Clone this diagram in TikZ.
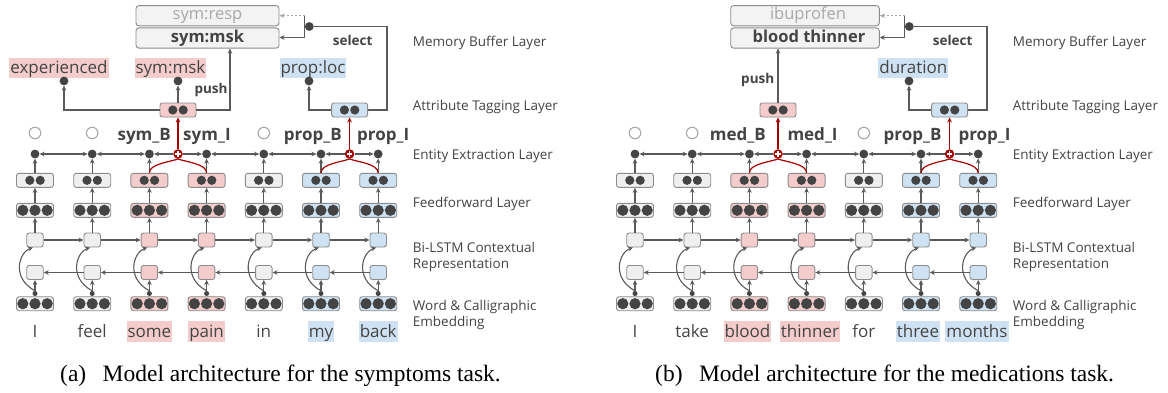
\documentclass[tikz,border=0pt]{standalone}
\usepackage{fontspec}
\setmainfont{Liberation Serif}
\newfontfamily\gsans{Open Sans}
\usetikzlibrary{arrows.meta}
\definecolor{ink}{HTML}{444444}
\definecolor{ln}{HTML}{5A5A5A}
\definecolor{bd}{HTML}{8C8C8C}
\definecolor{gy}{HTML}{EFEFEF}
\definecolor{pk}{HTML}{F4CCCC}
\definecolor{bl}{HTML}{CFE2F3}
\definecolor{rd}{HTML}{A50000}
\definecolor{lg}{HTML}{A8A8A8}
\definecolor{mf}{HTML}{F3F3F3}
\newcommand{\fsz}[1]{\fontsize{#1}{#1}\selectfont}
\newcommand{\twod}[1]{\fill[ink] ([xshift=-5.2pt]#1.center) circle (4.6pt) ([xshift=5.2pt]#1.center) circle (4.6pt);}
\newcommand{\threed}[1]{\fill[ink] ([xshift=-12.2pt]#1.center) circle (5.6pt) (#1.center) circle (5.6pt) ([xshift=12.2pt]#1.center) circle (5.6pt);}
\tikzset{
  myarr/.tip={Stealth[length=5pt,width=4.6pt]},
  lnz/.style={draw=ln, line width=1.1pt},
  ar/.style={draw=ln, line width=1.1pt, -myarr},
  dar/.style={draw=ln, line width=1.1pt, myarr-myarr},
  redln/.style={draw=rd, line width=1.2pt},
  vb/.style={draw=bd, line width=0.9pt, rounded corners=2.5pt, minimum width=37pt, minimum height=14pt, inner sep=0pt},
  sq/.style={draw=bd, line width=0.9pt, rounded corners=2.5pt, minimum width=16.5pt, minimum height=14pt, inner sep=0pt},
  edot/.style={circle, fill=ink, minimum size=8.8pt, inner sep=0pt},
  jdot/.style={circle, fill=ink, minimum size=5pt, inner sep=0pt},
  odot/.style={circle, draw=lg, line width=1.1pt, minimum size=11.5pt, inner sep=0pt},
  plus/.style={circle, fill=rd, minimum size=9.5pt, inner sep=0pt},
  word/.style={font=\gsans\fsz{17}, text=ink, anchor=base, inner xsep=1pt, inner ysep=1.7pt, text height=14.5pt, text depth=2.5pt},
  tag/.style={font=\gsans\bfseries\fsz{17}, text=ink, inner sep=0pt},
  layer/.style={font=\gsans\fsz{13.5}, text=ink, anchor=base west, inner sep=0pt},
  act/.style={font=\gsans\bfseries\fsz{13.5}, text=ink, inner sep=0pt},
  mem/.style={draw=bd, line width=0.9pt, rounded corners=3pt, fill=mf, inner sep=0pt, minimum height=20.3pt, text height=11.5pt, text depth=3.5pt},
  capt/.style={font=\fsz{23.5}, text=black, anchor=base west, inner sep=0pt}
}
\newcommand{\panelbody}[1]{%
  \foreach \i/\c in {1/gy,2/gy,3/pk,4/pk,5/gy,6/bl,7/bl}{%
    \pgfmathsetmacro{\x}{35+57.2*(\i-1)}
    \node[vb,fill=\c] (#1e\i) at (\x,303.7) {};
    \threed{#1e\i}
    \node[jdot] (#1j\i) at (\x,293.5) {};
    \node[sq,fill=\c] (#1b\i) at (\x,272.5) {};
    \node[sq,fill=\c] (#1f\i) at (\x,240) {};
    \node[vb,fill=\c] (#1g\i) at (\x,210.3) {};
    \threed{#1g\i}
    \node[vb,fill=\c] (#1h\i) at (\x,180.3) {};
    \twod{#1h\i}
    \node[edot] (#1d\i) at (\x,154) {};
    \draw[ar] (#1j\i) -- (#1b\i);
    \draw[ar] (#1j\i.north) .. controls +(-24,-13) and +(-14,5) .. ([xshift=-2pt]#1f\i.south);
    \draw[ar] (#1f\i) -- (#1g\i);
    \draw[ar] (#1g\i) -- (#1h\i);
    \draw[ar] (#1h\i) -- (#1d\i);
  }
  \foreach \i in {1,...,6}{%
    \pgfmathtruncatemacro{\nn}{\i+1}
    \draw[ar] (#1f\i) -- (#1f\nn);
    \draw[ar] (#1b\nn) -- (#1b\i);
  }
  \foreach \i/\nn in {1/2,2/3,4/5,5/6}{\draw[dar] (#1d\i) -- (#1d\nn);}
  \foreach \i in {1,2,5}{%
    \pgfmathsetmacro{\x}{35+57.2*(\i-1)}
    \node[odot] (#1o\i) at (\x,133) {};
  }
  \node[vb,fill=pk,minimum width=36pt] (#1a1) at (178,110) {}; \twod{#1a1}
  \node[vb,fill=bl,minimum width=36pt] (#1a2) at (349.6,110) {}; \twod{#1a2}
  \node[plus] (#1p1) at (178,154) {};
  \node[plus] (#1p2) at (349.6,154) {};
  \draw[redln] (#1h3.north) .. controls +(0,-9) and +(-8,3) .. (#1p1.south);
  \draw[redln] (#1h4.north) .. controls +(0,-9) and +(8,3) .. (#1p1.south);
  \draw[redln] (#1h6.north) .. controls +(0,-9) and +(-8,3) .. (#1p2.south);
  \draw[redln] (#1h7.north) .. controls +(0,-9) and +(8,3) .. (#1p2.south);
  \draw[redln,-myarr] (#1p1) -- (#1a1);
  \draw[redln,-myarr] (#1p2) -- (#1a2);
  \draw[ar] (#1p1) -- (#1d3);
  \draw[ar] (#1p1) -- (#1d4);
  \draw[ar] (#1p2) -- (#1d6);
  \draw[ar] (#1p2) -- (#1d7);
  \foreach \q in {1,2}{%
    \draw[white,line width=1.3pt] ([xshift=-2.7pt]#1p\q.center) -- ([xshift=2.7pt]#1p\q.center)
      ([yshift=-2.7pt]#1p\q.center) -- ([yshift=2.7pt]#1p\q.center);
  }
  \node[edot] (#1sd) at (309.3,26.5) {};
  \coordinate (#1st) at (304.5,15.7);
  \coordinate (#1sb) at (304.5,37.5);
  \coordinate (#1sc) at (387,26.5);
  \draw[lnz] (#1a2.east) -| (#1sc) -- (#1sd);
  \draw[lnz] (#1st) -- (#1sb);
  \draw[ar] (#1sb) -- (#1mm.east |- #1sb);
  \draw[draw=lg,line width=1.1pt,dash pattern=on 1.2pt off 2.8pt,-myarr] (#1st) -- (#1mr.east |- #1st);
  \node[act] (#1sel) at (352.7,40) {select};
  \node[edot] (#1D3) at (309,81) {};
  \draw[ar] (#1a2.west) -| (#1D3);
  \node[layer] (#1l1) at (412.7,46.5) {Memory Buffer Layer};
  \node[layer] (#1l2) at (412.7,110) {Attribute Tagging Layer};
  \node[layer] (#1l3) at (412.7,159) {Entity Extraction Layer};
  \node[layer] (#1l4) at (412.7,207.5) {Feedforward Layer};
  \node[layer] (#1l5) at (412.7,252) {Bi-LSTM Contextual};
  \node[layer] (#1l6) at (412.7,268) {Representation};
  \node[layer] (#1l7) at (412.7,310.5) {Word \& Calligraphic};
  \node[layer] (#1l8) at (412.7,326.5) {Embedding};
}
\begin{document}
\begin{tikzpicture}[x=1pt,y=-1pt]
\useasboundingbox (0,0) rectangle (1168,392);
\fill[white] (0,0) rectangle (1168,392);
% ---------------- panel (a)
\begin{scope}
  \node[mem,minimum width=143pt,font=\gsans\fsz{16.5},text=lg] (amr) at (207.5,15.7) {sym:resp};
  \node[mem,minimum width=143pt,font=\gsans\bfseries\fsz{16.5},text=ink] (amm) at (207.5,38) {sym:msk};
  \node[word,fill=pk] (al1) at (59,73.8) {experienced};
  \node[word,fill=pk] (al2) at (170.5,73.8) {sym:msk};
  \node[word,fill=bl] (al3) at (313,73.8) {prop:loc};
  \panelbody{a}
  \node[edot] (aD1) at (64,81) {};
  \node[edot] (aD2) at (178,81) {};
  \draw[ar] (aa1.west) -| (aD1);
  \draw[ar] (aa1) -- (aD2);
  \draw[ar] (aa1.east) -| ([xshift=22.5pt]amm.south);
  \node[act] (apush) at (211,90) {push};
  \node[tag,anchor=base east] (at3) at (171,140) {sym\_B};
  \node[tag,anchor=base west] (at4) at (183,140) {sym\_I};
  \node[tag,anchor=base east] (at6) at (342,140) {prop\_B};
  \node[tag,anchor=base west] (at7) at (357,140) {prop\_I};
  \node[word] (aw1) at (35,337.5) {I};
  \node[word] (aw2) at (92.2,337.5) {feel};
  \node[word,fill=pk] (aw3) at (149.4,337.5) {some};
  \node[word,fill=pk] (aw4) at (206.6,337.5) {pain};
  \node[word] (aw5) at (263.8,337.5) {in};
  \node[word,fill=bl] (aw6) at (321,337.5) {my};
  \node[word,fill=bl] (aw7) at (378.2,337.5) {back};
  \node[capt] (acap) at (60,381.5) {(a)\hspace{0.45em} Model architecture for the symptoms task.};
\end{scope}
% ---------------- panel (b)
\begin{scope}[xshift=600pt]
  \node[mem,minimum width=148.6pt,font=\gsans\fsz{16.5},text=lg] (bmr) at (205,15.7) {\hspace{6pt}ibuprofen};
  \node[mem,minimum width=148.6pt,font=\gsans\bfseries\fsz{16.5},text=ink] (bmm) at (205,38) {\hspace{8pt}blood thinner};
  \node[word,fill=bl] (bl3) at (313.3,73.8) {duration};
  \panelbody{b}
  \draw[ar] (ba1) -- (ba1 |- bmm.south);
  \node[act] (bpush) at (157.7,80) {push};
  \node[tag,anchor=base east] (bt3) at (166,140) {med\_B};
  \node[tag,anchor=base west] (bt4) at (187.3,140) {med\_I};
  \node[tag,anchor=base east] (bt6) at (341.7,140) {prop\_B};
  \node[tag,anchor=base west] (bt7) at (358.3,140) {prop\_I};
  \node[word] (bw1) at (35,337.5) {I};
  \node[word] (bw2) at (92.2,337.5) {take};
  \node[word,fill=pk] (bw3) at (147.5,337.5) {blood};
  \node[word,fill=pk] (bw4) at (210,337.5) {thinner};
  \node[word] (bw5) at (263.8,337.5) {for};
  \node[word,fill=bl] (bw6) at (318,337.5) {three};
  \node[word,fill=bl] (bw7) at (377,337.5) {months};
  \node[capt] (bcap) at (55,381.5) {(b)\hspace{0.45em} Model architecture for the medications task.};
\end{scope}
\end{tikzpicture}
\end{document}
